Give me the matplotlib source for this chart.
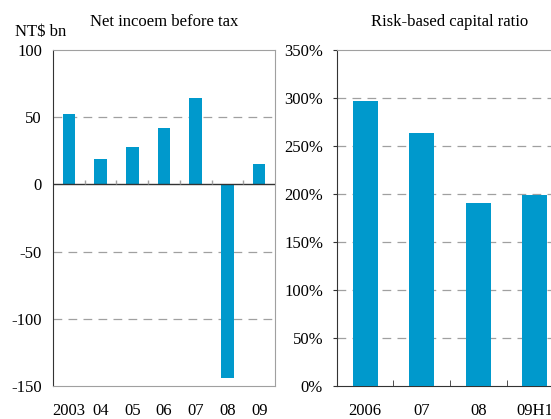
import matplotlib
matplotlib.use("Agg")
import matplotlib.pyplot as plt
import numpy as np

plt.rcParams['font.family'] = ['Liberation Serif', 'DejaVu Serif']
plt.rcParams['font.size'] = 12
plt.rcParams['axes.unicode_minus'] = False

# data
income_years = ['2003', '04', '05', '06', '07', '08', '09']
income_vals = [52.5, 19, 28, 42, 64.5, -144, 15.5]

rbc_years = ['2006', '07', '08', '09H1']
rbc_vals = [297, 263.5, 191, 199]

bar_col = '#0099cc'
grid_col = '#a0a0a0'
dark = '#333333'

fig = plt.figure(figsize=(5.51, 4.19), dpi=100)

# ---------------- left: net income ----------------
ax1 = fig.add_axes([0.0962, 0.0788, 0.4029, 0.8019])
x1 = np.arange(len(income_years))
ax1.bar(x1, income_vals, width=0.4, color=bar_col, zorder=3)
ax1.set_xlim(-0.5, len(income_years) - 0.5)
ax1.set_ylim(-150, 100)
ax1.set_yticks([100, 50, 0, -50, -100, -150])
for v in [50, -50, -100]:
    ax1.axhline(v, color=grid_col, lw=0.9, ls=(0, (7, 5)), zorder=1)
ax1.axhline(0, color=dark, lw=1.0, zorder=4)
ax1.vlines(np.arange(0.5, len(income_years) - 1), 0, 3.5, color=grid_col, lw=1.0, zorder=4)
ax1.set_xticks(x1)
ax1.set_xticklabels(income_years)
ax1.tick_params(axis='x', length=0, pad=12)
ax1.tick_params(axis='y', length=0, pad=8)
for s in ['top', 'right', 'bottom']:
    ax1.spines[s].set_color(grid_col)
ax1.spines['left'].set_color(dark)
ax1.set_title('Net incoem before tax', fontsize=12, pad=17)
fig.text(0.027, 0.913, 'NT$ bn', fontsize=12, ha='left', va='baseline')

# ---------------- right: risk-based capital ratio ----------------
ax2 = fig.add_axes([0.6116, 0.0788, 0.4102, 0.8019])
x2 = np.arange(len(rbc_years))
ax2.bar(x2, rbc_vals, width=0.44, color=bar_col, zorder=3)
ax2.set_xlim(-0.5, len(rbc_years) - 0.5)
ax2.set_ylim(0, 350)
ax2.set_yticks(np.arange(0, 351, 50))
ax2.set_yticklabels([f'{v}%' for v in range(0, 351, 50)])
for v in range(50, 301, 50):
    ax2.axhline(v, color=grid_col, lw=0.9, ls=(0, (7, 5)), zorder=1)
ax2.set_xticks(x2)
ax2.set_xticklabels(rbc_years)
ax2.set_xticks(np.arange(0.5, len(rbc_years) - 1), minor=True)
ax2.tick_params(axis='x', which='major', length=0, pad=12)
ax2.tick_params(axis='x', which='minor', direction='in', length=4.5, color=dark)
ax2.tick_params(axis='y', direction='out', length=3, pad=7, color=dark)
ax2.spines['top'].set_color(grid_col)
ax2.spines['right'].set_visible(False)
ax2.spines['left'].set_color(dark)
ax2.spines['bottom'].set_color(dark)
ax2.set_title('Risk-based capital ratio', fontsize=12, pad=17)

fig.savefig('out.png', dpi=100)
